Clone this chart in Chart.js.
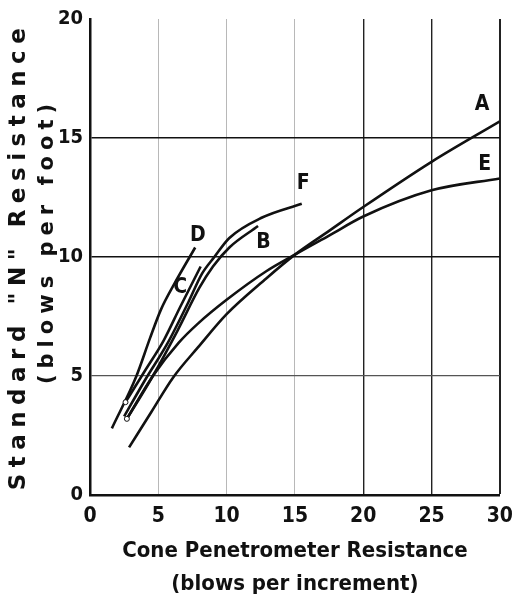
<!DOCTYPE html>
<html>
<head>
<meta charset="utf-8">
<script src="https://cdn.jsdelivr.net/npm/chart.js@4"></script>
<style>
  html, body { margin:0; padding:0; background:#fff; }
  #wrap { width:522px; height:612px; }
</style>
</head>
<body>
<div id="wrap"><canvas id="chart"></canvas></div>
<script>
// curve data (x = cone blows, y = N)
const curveA = [[2.86,2.0],[4.5,3.5],[6.1,4.95],[7.9,6.2],[10,7.6],[12.9,9.1],[15,10.1],[17.5,11.1],[20,12.1],[25,14.0],[30,15.7]];
const curveE = [[2.7,3.2],[4.6,5.0],[6.5,6.4],[7.9,7.2],[10,8.2],[12.9,9.4],[15,10.1],[17.5,10.9],[20,11.7],[25,12.8],[30,13.3]];
const curveB = [[2.7,3.2],[4.6,5.0],[6.4,6.9],[8.0,8.7],[9.0,9.6],[10.2,10.4],[12.3,11.3]];
const curveF = [[2.5,3.3],[4.0,4.8],[5.7,6.4],[7.2,8.1],[8.2,9.3],[9.1,10.0],[10.2,10.8],[12.6,11.66],[15.5,12.24]];
const curveC = [[2.6,3.9],[4.0,5.2],[5.4,6.5],[6.6,7.9],[8.1,9.6]];
const curveD = [[1.6,2.8],[3.4,5.0],[4.4,6.6],[5.2,7.8],[6.2,8.9],[7.7,10.4]];

const curveNames = ['A','E','B','F','C','D'];
const curveList  = [curveA, curveE, curveB, curveF, curveC, curveD];
const openStart  = ['C','E'];   // small open circle at start

// label positions (data coords)
const labelPos = { A:[28.7,16.4], E:[28.9,13.9], F:[15.6,13.1], B:[12.7,10.6], D:[7.9,10.9], C:[6.6,8.7] };

const xTicks = [0,5,10,15,20,25,30];
const yTicks = [0,5,10,15,20];

const NARROW = "'Liberation Sans Narrow', 'DejaVu Sans Condensed', sans-serif";

const datasets = curveList.map((c, i) => ({
  label: curveNames[i],
  data: c.map(p => ({ x:p[0], y:p[1] })),
  borderColor: '#111',
  borderWidth: 2.6,
  cubicInterpolationMode: 'monotone',
  pointRadius: c.map((p, k) => (k === 0 && openStart.includes(curveNames[i])) ? 2.5 : 0),
  pointBackgroundColor: '#fff',
  pointBorderColor: '#111',
  pointBorderWidth: 1,
  fill: false,
}));

// letters beside each curve + the spaced y title
const labelsPlugin = {
  id: 'curveLabels',
  afterDatasetsDraw(chart) {
    const { ctx, scales:{ x, y } } = chart;
    ctx.save();
    ctx.fillStyle = '#111';
    ctx.font = `bold 21px ${NARROW}`;
    ctx.textAlign = 'center';
    ctx.textBaseline = 'middle';
    Object.keys(labelPos).forEach(k => {
      const [vx, vy] = labelPos[k];
      ctx.fillText(k, x.getPixelForValue(vx), y.getPixelForValue(vy));
    });
    ctx.restore();
  },
  afterDraw(chart) {
    const { ctx } = chart;
    const lines = [
      { text:'Standard "N" Resistance', x:19, y:256, size:23, spacing:'6.5px' },
      { text:'(blows per foot)',        x:48, y:241, size:21, spacing:'6px' },
    ];
    lines.forEach(l => {
      ctx.save();
      ctx.fillStyle = '#111';
      ctx.textAlign = 'center';
      ctx.textBaseline = 'middle';
      ctx.translate(l.x, l.y);
      ctx.rotate(-Math.PI / 2);
      ctx.font = `bold ${l.size}px 'DejaVu Sans', sans-serif`;
      ctx.letterSpacing = l.spacing;
      ctx.fillText(l.text, 0, 0);
      ctx.restore();
    });
  }
};

new Chart(document.getElementById('chart'), {
  type: 'line',
  data: { datasets },
  plugins: [labelsPlugin],
  options: {
    responsive: true,
    maintainAspectRatio: false,
    animation: false,
    layout: { padding: { top: 18, right: 13, left: 0, bottom: 7 } },
    plugins: { legend: { display: false }, tooltip: { enabled: false } },
    scales: {
      x: {
        type: 'linear',
        min: 0, max: 30,
        afterBuildTicks: s => { s.ticks = xTicks.map(v => ({ value: v })); },
        afterFit: s => { s.height = 110; },
        grid: {
          drawTicks: false,
          color: c => c.tick.value >= 20 ? '#222' : 'rgba(0,0,0,0.28)',
          lineWidth: c => c.tick.value === 30 ? 2 : (c.tick.value >= 20 ? 1.4 : 1),
        },
        border: { color: '#111', width: 2.5 },
        ticks: {
          color: '#111',
          padding: 9,
          font: { family: NARROW, size: 21, weight: 'bold' },
        },
        title: {
          display: true,
          text: ['Cone Penetrometer Resistance', '(blows per increment)'],
          color: '#111',
          font: { family: NARROW, size: 22, weight: 'bold', lineHeight: 1.5 },
          padding: { top: 0 },
        }
      },
      y: {
        type: 'linear',
        min: 0, max: 20,
        afterBuildTicks: s => { s.ticks = yTicks.map(v => ({ value: v })); },
        afterFit: s => { s.width = 90; },
        grid: {
          drawTicks: false,
          color: c => c.tick.value === 20 ? 'rgba(0,0,0,0)' : (c.tick.value === 5 ? '#555' : '#111'),
          lineWidth: c => c.tick.value === 5 ? 1.2 : 1.6,
        },
        border: { color: '#111', width: 2.5 },
        ticks: {
          color: '#111',
          padding: 7,
          font: { family: NARROW, size: 20, weight: 'bold' },
        }
      }
    }
  }
});
</script>
</body>
</html>
